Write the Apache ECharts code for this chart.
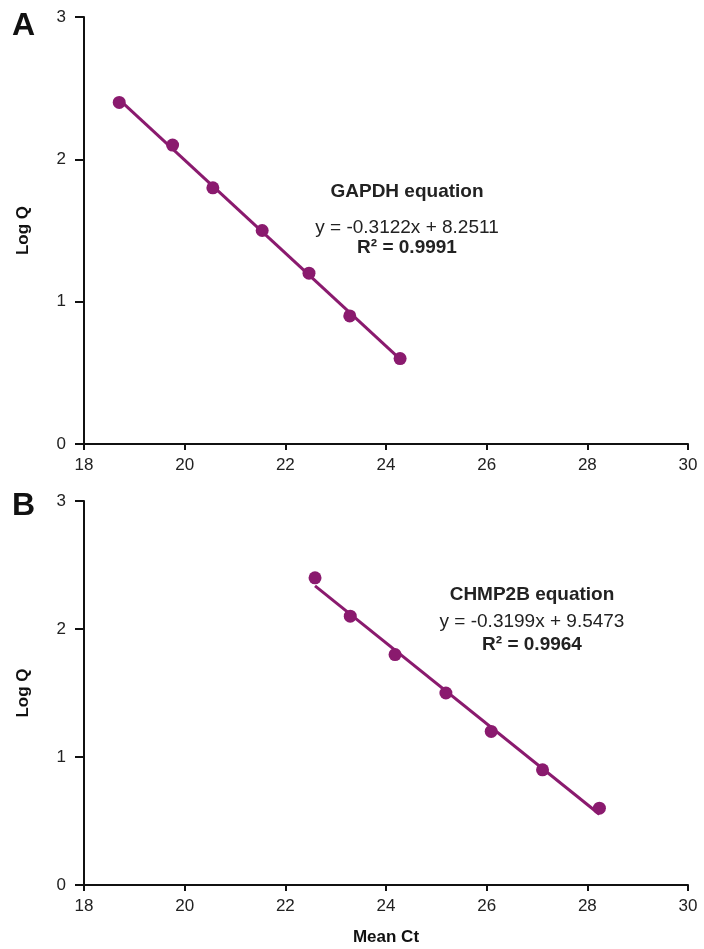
<html>
<head>
    <meta http-equiv="Content-Type" content="text/html; charset=utf-8" />
    <title>Standard curves</title>
    <style type="text/css">
        * { margin: 0; padding: 0 }
        html, body { width: 100%; height: 100%; background: #fff; }
        #chart { width: 704px; height: 949px; }
    </style>
    <script src="https://cdn.jsdelivr.net/npm/echarts@6/dist/echarts.min.js"></script>
</head>
<body>
    <div id="chart"></div>
    <script>
        // data
        const logQ = [2.4, 2.1, 1.8, 1.5, 1.2, 0.9, 0.6];
        const gapdhCt = [18.70, 19.76, 20.56, 21.54, 22.47, 23.28, 24.28];
        const chmp2bCt = [22.59, 23.29, 24.18, 25.19, 26.09, 27.11, 28.24];
        const xTicks = [18, 20, 22, 24, 26, 28, 30];
        const yTicks = [0, 1, 2, 3];
        const gapdhText = ['GAPDH equation', 'y = -0.3122x + 8.2511', 'R\u00b2 = 0.9991'];
        const chmp2bText = ['CHMP2B equation', 'y = -0.3199x + 9.5473', 'R\u00b2 = 0.9964'];

        const purple = '#8a1a6e';
        const font = 'Liberation Sans, Arial, sans-serif';

        // least squares line over the plotted points, drawn from first to last x
        const fit = (xs, ys) => {
            const n = xs.length;
            const mx = xs.reduce((a, b) => a + b, 0) / n;
            const my = ys.reduce((a, b) => a + b, 0) / n;
            let sxy = 0, sxx = 0;
            xs.forEach((x, i) => { sxy += (x - mx) * (ys[i] - my); sxx += (x - mx) * (x - mx); });
            const k = sxy / sxx, b = my - k * mx;
            const x0 = Math.min(...xs), x1 = Math.max(...xs);
            return [[x0, k * x0 + b], [x1, k * x1 + b]];
        };

        const xAxis = (idx, name) => ({
            gridIndex: idx, type: 'value', min: xTicks[0], max: xTicks[xTicks.length - 1], interval: 2,
            name: name, nameLocation: 'middle', nameGap: 44,
            nameTextStyle: { fontFamily: font, fontSize: 17, fontWeight: 'bold', color: '#111' },
            axisLine: { show: true, onZero: false, lineStyle: { color: '#111', width: 2 } },
            axisTick: { show: true, length: 6, lineStyle: { color: '#111', width: 2 } },
            axisLabel: { fontFamily: font, fontSize: 17, color: '#222', margin: 13 },
            splitLine: { show: false }
        });
        const yAxis = (idx) => ({
            gridIndex: idx, type: 'value', min: yTicks[0], max: yTicks[yTicks.length - 1], interval: 1,
            name: 'Log Q', nameLocation: 'middle', nameGap: 52,
            nameTextStyle: { fontFamily: font, fontSize: 17, fontWeight: 'bold', color: '#111' },
            axisLine: { show: true, onZero: false, lineStyle: { color: '#111', width: 2 } },
            axisTick: { show: true, length: 9, lineStyle: { color: '#111', width: 2 } },
            axisLabel: { fontFamily: font, fontSize: 17, color: '#222', margin: 18 },
            splitLine: { show: false }
        });

        const points = (xs, idx) => ({
            type: 'scatter', xAxisIndex: idx, yAxisIndex: idx,
            data: xs.map((x, i) => [x, logQ[i]]),
            symbolSize: 13, itemStyle: { color: purple, opacity: 1 }, z: 3
        });
        const trend = (xs, idx) => ({
            type: 'line', xAxisIndex: idx, yAxisIndex: idx,
            data: fit(xs, logQ), symbol: 'none',
            lineStyle: { color: purple, width: 3 }, z: 2
        });

        const textBlock = (lines, cx, ys) => lines.map((t, i) => ({
            type: 'text', x: cx, y: ys[i],
            style: {
                text: t, align: 'center', verticalAlign: 'middle',
                fontFamily: font, fontSize: 19,
                fontWeight: i === 1 ? 'normal' : 'bold', fill: '#222'
            }
        }));

        const chart = echarts.init(document.getElementById('chart'), null, { renderer: 'canvas' });
        chart.setOption({
            animation: false,
            backgroundColor: '#fff',
            grid: [
                { left: 84, right: 16, top: 17, height: 427 },
                { left: 84, right: 16, top: 501, height: 384 }
            ],
            xAxis: [xAxis(0, ''), xAxis(1, 'Mean Ct')],
            yAxis: [yAxis(0), yAxis(1)],
            series: [
                trend(gapdhCt, 0), points(gapdhCt, 0),
                trend(chmp2bCt, 1), points(chmp2bCt, 1)
            ],
            graphic: [
                { type: 'text', x: 12, y: 10, style: { text: 'A', fontFamily: font, fontSize: 32, fontWeight: 'bold', fill: '#111' } },
                { type: 'text', x: 12, y: 490, style: { text: 'B', fontFamily: font, fontSize: 32, fontWeight: 'bold', fill: '#111' } }
            ]
                .concat(textBlock(gapdhText, 407, [192, 228, 248]))
                .concat(textBlock(chmp2bText, 532, [595, 622, 645]))
        });
    </script>
</body>
</html>
